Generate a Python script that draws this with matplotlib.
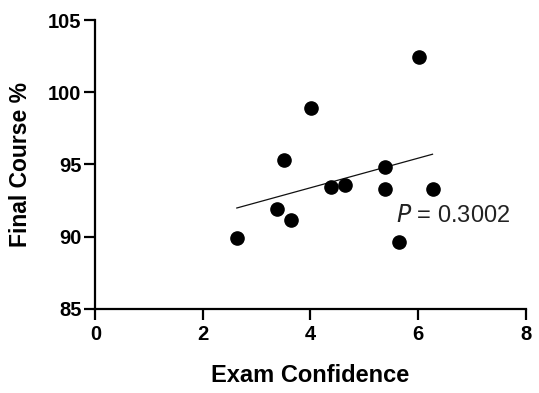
import numpy as np
import matplotlib.pyplot as plt

plt.rcParams['font.family'] = ['Liberation Sans', 'DejaVu Sans']

# exam confidence vs final course %
confidence = [2.63, 3.38, 3.63, 3.51, 4.01, 4.38, 4.64, 5.39, 5.39, 6.02, 6.27, 5.65]
final_pct = [89.92, 91.90, 91.14, 95.30, 98.92, 93.43, 93.57, 94.83, 93.27, 102.43, 93.29, 89.60]
p_value = 0.3002

x = np.array(confidence)
y = np.array(final_pct)
slope, intercept = np.polyfit(x, y, 1)
x_fit = np.array([x.min(), x.max()])
y_fit = slope * x_fit + intercept

fig = plt.figure(figsize=(5.39, 3.93), dpi=100)
ax = fig.add_axes([0.177, 0.2145, 0.798, 0.7346])

ax.plot(x_fit, y_fit, color='#111111', lw=0.9)
ax.plot(x, y, 'o', color='black', ms=9.5, mec='black')

ax.text(5.6, 91.42, r'$\it{P}$ = ' + f'{p_value:.4f}', fontsize=17,
        va='center', ha='left', color='#222222')

ax.set_xlim(0, 8)
ax.set_ylim(85, 105)
ax.set_xticks([0, 2, 4, 6, 8])
ax.set_yticks([85, 90, 95, 100, 105])

for side in ['top', 'right']:
    ax.spines[side].set_visible(False)
for side in ['left', 'bottom']:
    ax.spines[side].set_linewidth(1.6)

ax.tick_params(axis='both', length=8, width=1.6, labelsize=14.5)
ax.tick_params(axis='y', pad=2)
ax.tick_params(axis='x', pad=4)
for lab in ax.get_xticklabels() + ax.get_yticklabels():
    lab.set_fontweight('bold')

ax.set_xlabel('Exam Confidence', fontsize=17, fontweight='bold', labelpad=14)
ax.set_ylabel('Final Course %', fontsize=16.5, fontweight='bold')
ax.yaxis.set_label_coords(-0.148, 0.5)

fig.savefig('out.png', dpi=100)
